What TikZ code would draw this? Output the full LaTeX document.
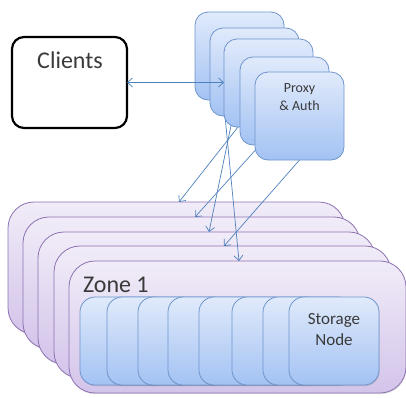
\documentclass[tikz,border=0pt]{standalone}
\usepackage{fontspec}
\setmainfont{Carlito}
\usetikzlibrary{arrows.meta,shadows,calc}

\pgfdeclarelayer{back}
\pgfdeclarelayer{mid}
\pgfsetlayers{back,mid,main}

\definecolor{proxytop}{HTML}{E0EAFB}
\definecolor{proxybot}{HTML}{A3C2F3}
\definecolor{proxyline}{HTML}{6E95CB}
\definecolor{zonetop}{HTML}{F1ECF8}
\definecolor{zonebot}{HTML}{D3C4EA}
\definecolor{zoneline}{HTML}{8D72B3}
\definecolor{storetop}{HTML}{E0EAFB}
\definecolor{storebot}{HTML}{A3C2F3}
\definecolor{storeline}{HTML}{6E95CB}
\definecolor{linkblue}{HTML}{4F81BD}
\definecolor{txt}{HTML}{3A3A3A}

\tikzset{
  every node/.style={inner sep=0pt, outer sep=0pt},
  proxybox/.style={draw=proxyline, line width=0.8pt, rounded corners=13pt,
    top color=proxytop, bottom color=proxybot,
    minimum width=89pt, minimum height=88pt, anchor=north west},
  zonebox/.style={draw=zoneline, line width=0.8pt, rounded corners=26pt,
    top color=zonetop, bottom color=zonebot,
    minimum width=337pt, minimum height=132pt, anchor=north west,
    drop shadow={shadow xshift=0.6pt, shadow yshift=-1.2pt, opacity=0.25}},
  storebox/.style={draw=storeline, line width=0.8pt, rounded corners=15pt,
    top color=storetop, bottom color=storebot,
    minimum width=90pt, minimum height=88pt, anchor=north west,
    drop shadow={shadow xshift=0.6pt, shadow yshift=-1.2pt, opacity=0.3}},
  clientbox/.style={draw=black, line width=2.2pt, rounded corners=12pt, fill=white,
    minimum width=115pt, minimum height=91pt, anchor=north west},
  link/.style={draw=linkblue, line width=0.7pt,
    -{Straight Barb[length=5pt,width=9pt]}},
  biglink/.style={draw=linkblue, line width=0.7pt,
    {Straight Barb[length=5pt,width=9pt]}-{Straight Barb[length=5pt,width=9pt]}},
  lbl/.style={text=txt}
}

\begin{document}
\begin{tikzpicture}[x=1pt, y=-1pt]
  \useasboundingbox (0,0) rectangle (406,397);

  % zones and their storage nodes, at the back
  \begin{pgfonlayer}{back}
    \node[zonebox] (zoneA) at (8,202) {};
    \node[zonebox] (zoneB) at (23,217) {};
    \node[zonebox] (zoneC) at (38,232) {};
    \node[zonebox] (zoneD) at (54,246) {};
    \node[zonebox] (zoneE) at (69,261) {};
    \node[lbl, anchor=base west, font=\fontsize{24}{28}\selectfont]
      (zonename) at (83,292) {Zone 1};
    \foreach \x [count=\i] in {80,107,138,168,199,232,263,289}
      \node[storebox] (store\i) at (\x,297) {};
    \node[lbl, anchor=north, align=center, font=\fontsize{17}{21}\selectfont]
      (storename) at ($(store8.north)+(0,16)$) {Storage\\Node};
  \end{pgfonlayer}

  % proxy servers
  \node[proxybox] (proxy1) at (195,12) {};
  \node[proxybox] (proxy2) at (210,28) {};
  \node[proxybox] (proxy3) at (224,39) {};
  \node[proxybox] (proxy4) at (240,57) {};
  \node[proxybox] (proxy5) at (255,72) {};
  \node[lbl, anchor=north, align=center, font=\fontsize{14}{18}\selectfont]
    (proxyname) at ($(proxy5.north)+(0,12)$) {Proxy\\\& Auth};

  % clients
  \node[clientbox] (clients) at (12,37) {};
  \node[lbl, anchor=base, font=\fontsize{24}{28}\selectfont]
    (clientname) at (70,68) {Clients};

  % proxy to zone links, passing behind the proxies
  \begin{pgfonlayer}{mid}
    \draw[link] ($(proxy3.south west)+(14,0)$) -- ($(zoneA.north west)+(171,0)$);
    \draw[link] ($(proxy4.south west)+(20,0)$) -- ($(zoneB.north west)+(172,0)$);
    \draw[link] ($(proxy2.south west)+(23,0)$) -- ($(zoneC.north west)+(171,0)$);
    \draw[link] (proxy5.south) -- ($(zoneD.north west)+(170,0)$);
    \draw[link] ($(proxy2.south west)+(15,0)$) -- ($(zoneE.north west)+(170,0)$);
  \end{pgfonlayer}

  % clients to proxy link
  \draw[biglink] (clients.east) -- (clients.east -| proxy3.west);
\end{tikzpicture}
\end{document}
